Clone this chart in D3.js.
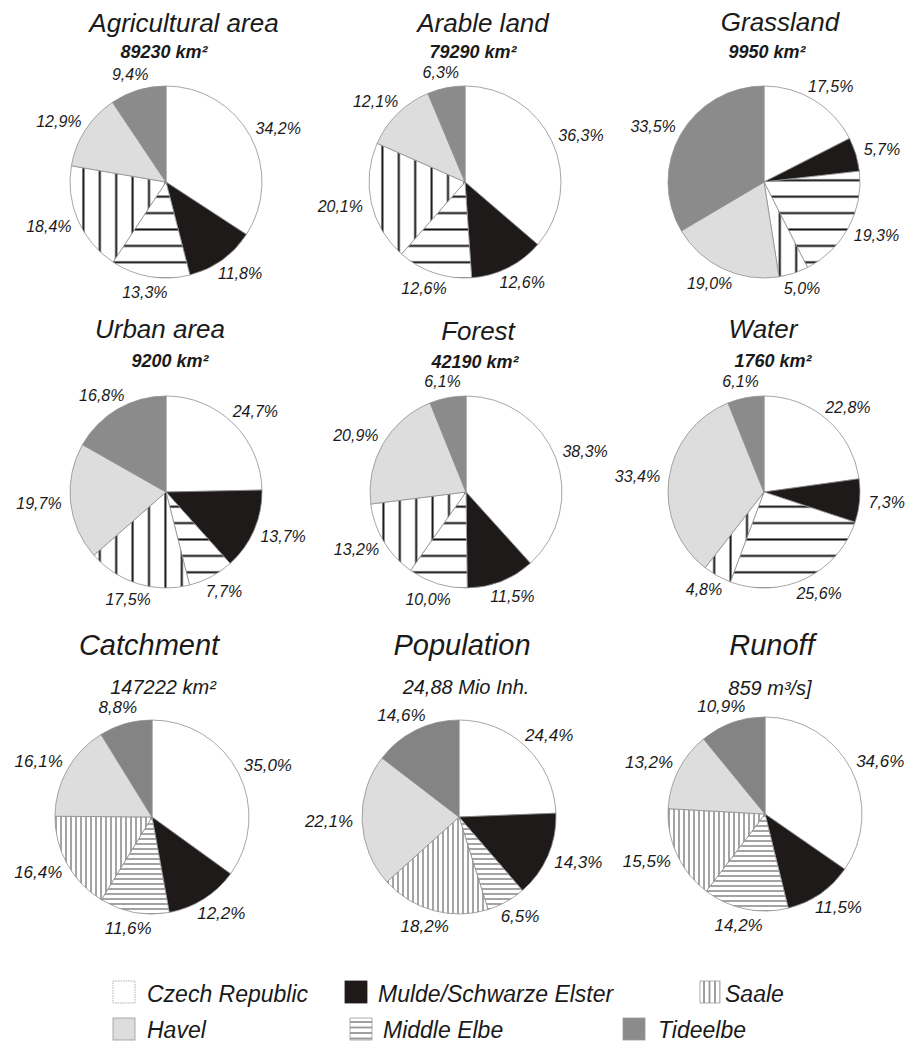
<!DOCTYPE html>
<html><head><meta charset="utf-8">
<script src="https://cdn.jsdelivr.net/npm/d3@7"></script>
<style>
body{margin:0;background:#fff;}
svg{display:block;font-family:"Liberation Sans",Arial,Helvetica,sans-serif;}
text{font-style:italic;fill:#1a1a1a;}
</style></head><body>
<svg id="chart" width="909" height="1044"></svg>
<script>
// ---------- data ----------
const categories = ["Czech Republic","Mulde/Schwarze Elster","Middle Elbe","Saale","Havel","Tideelbe"];
const legendOrder = ["Czech Republic","Mulde/Schwarze Elster","Saale","Havel","Middle Elbe","Tideelbe"];
const titles = ["Agricultural area","Arable land","Grassland","Urban area","Forest","Water","Catchment","Population","Runoff"];
const totals = ["89230 km²","79290 km²","9950 km²","9200 km²","42190 km²","1760 km²","147222 km²","24,88 Mio Inh.","859 m³/s]"];
const agriculturalArea = [34.2, 11.8, 13.3, 18.4, 12.9, 9.4];
const arableLand       = [36.3, 12.6, 12.6, 20.1, 12.1, 6.3];
const grassland        = [17.5, 5.7, 19.3, 5.0, 19.0, 33.5];
const urbanArea        = [24.7, 13.7, 7.7, 17.5, 19.7, 16.8];
const forest           = [38.3, 11.5, 10.0, 13.2, 20.9, 6.1];
const water            = [22.8, 7.3, 25.6, 4.8, 33.4, 6.1];
const catchment        = [35.0, 12.2, 11.6, 16.4, 16.1, 8.8];
const population       = [24.4, 14.3, 6.5, 18.2, 22.1, 14.6];
const runoff           = [34.6, 11.5, 14.2, 15.5, 13.2, 10.9];
const shares = [agriculturalArea, arableLand, grassland, urbanArea, forest, water, catchment, population, runoff];

// ---------- layout / style ----------
const pieCenters = [[166,182],[465,182],[764,182],[166,492],[466,492],[764,492],[152,817],[459,817],[765,814]];
const titlePos   = [[184,32],[483,32],[780,31],[160,338],[478,340],[763,338],[149,655],[462,655],[772,655]];
const totalPos   = [[164,58],[473,58],[767,58],[170,367],[475,368],[773,367],[163,694],[466,694],[770,695]];

const svg = d3.select("#chart");
const defs = svg.append("defs");

function hatch(id, spacing, width, color, vertical, phase){
  const p = defs.append("pattern").attr("id", id)
    .attr("patternUnits","userSpaceOnUse")
    .attr("width", spacing).attr("height", spacing);
  if (vertical){
    p.attr("x", phase - spacing/2).attr("y", 0);
    p.append("rect").attr("width",spacing).attr("height",spacing).attr("fill","#fff");
    p.append("line").attr("x1",spacing/2).attr("x2",spacing/2).attr("y1",0).attr("y2",spacing)
      .attr("stroke",color).attr("stroke-width",width);
  } else {
    p.attr("x", 0).attr("y", phase - spacing/2);
    p.append("rect").attr("width",spacing).attr("height",spacing).attr("fill","#fff");
    p.append("line").attr("y1",spacing/2).attr("y2",spacing/2).attr("x1",0).attr("x2",spacing)
      .attr("stroke",color).attr("stroke-width",width);
  }
}
hatch("vCoarse", 16.4, 2, "#111", true, -17);
hatch("hCoarse", 16.4, 2, "#111", false, 14.7);
hatch("vFine", 5, 0.9, "#333", true, -1);
hatch("hFine", 5, 0.9, "#333", false, 2);
hatch("vLeg", 5.5, 1, "#444", true, 4);
hatch("hLeg", 5.5, 1, "#444", false, 4);

function fillFor(cat, fine){
  switch(cat){
    case "Czech Republic": return "#ffffff";
    case "Mulde/Schwarze Elster": return "#1e1a1a";
    case "Middle Elbe": return fine ? "url(#hFine)" : "url(#hCoarse)";
    case "Saale": return fine ? "url(#vFine)" : "url(#vCoarse)";
    case "Havel": return "#dddddd";
    case "Tideelbe": return fine ? "#848484" : "#8b8b8b";
  }
}

const locale = d3.formatLocale({decimal: ",", thousands: ".", grouping: [3], currency: ["", "€"]});
const fmt = locale.format(".1f");

const pie = d3.pie().sort(null).value(d => d.v);

shares.forEach((vals, i) => {
  const row = Math.floor(i / 3);
  const fine = row === 2;
  const r = fine ? 97 : 96;
  const arc = d3.arc().innerRadius(0).outerRadius(r);

  // titles
  svg.append("text").attr("x", titlePos[i][0]).attr("y", titlePos[i][1])
    .attr("text-anchor","middle").attr("font-size", fine ? 29 : 26).text(titles[i]);
  svg.append("text").attr("x", totalPos[i][0]).attr("y", totalPos[i][1])
    .attr("text-anchor","middle").attr("font-size", fine ? 20 : 18)
    .attr("font-weight", fine ? "normal" : "bold").text(totals[i]);

  const g = svg.append("g").attr("transform", `translate(${pieCenters[i][0]},${pieCenters[i][1]})`);
  const data = pie(vals.map((v, k) => ({v, cat: categories[k]})));

  g.selectAll("path").data(data).join("path")
    .attr("d", arc)
    .attr("fill", d => fillFor(d.data.cat, fine))
    .attr("stroke", "#8f8f8f").attr("stroke-width", 0.8);

  // labels
  const fs = fine ? 17 : 16;
  g.selectAll("text.lbl").data(data).join("text").attr("class","lbl")
    .attr("font-size", fs)
    .attr("text-anchor","middle")
    .attr("dominant-baseline","central")
    .text(d => fmt(d.data.v) + "%")
    .each(function(d){
      const a = (d.startAngle + d.endAngle) / 2;
      const dx = Math.sin(a), dy = -Math.cos(a);
      const hw = this.getComputedTextLength() / 2;
      const hh = fs * 0.45;
      const rr = r + 9;
      d3.select(this).attr("x", rr*dx + dx*hw).attr("y", rr*dy + dy*hh);
    });
});

// ---------- legend ----------
const legendSwatchX = [113, 345, 700, 113, 350, 623];
const legendTextX   = [147, 378, 725, 147, 383, 658];
const legendRowY    = [1002, 1038];
const legendSwatchY = [981, 1018];

legendOrder.forEach((cat, j) => {
  const row = Math.floor(j / 3);
  const w = cat === "Saale" ? 20 : 22;
  const sg = svg.append("g").attr("transform", `translate(${legendSwatchX[j]},${legendSwatchY[row]})`);
  let fill = fillFor(cat, false);
  if (cat === "Saale") fill = "url(#vLeg)";
  if (cat === "Middle Elbe") fill = "url(#hLeg)";
  sg.append("rect").attr("width", w).attr("height", 22)
    .attr("fill", fill)
    .attr("stroke", cat === "Mulde/Schwarze Elster" ? "#1e1a1a" : "#9a9a9a")
    .attr("stroke-width", 0.8)
    .attr("stroke-dasharray", cat === "Czech Republic" ? "1.5,1" : null);
  svg.append("text").attr("x", legendTextX[j]).attr("y", legendRowY[row])
    .attr("font-size", 23).text(cat);
});
</script>
</body></html>
